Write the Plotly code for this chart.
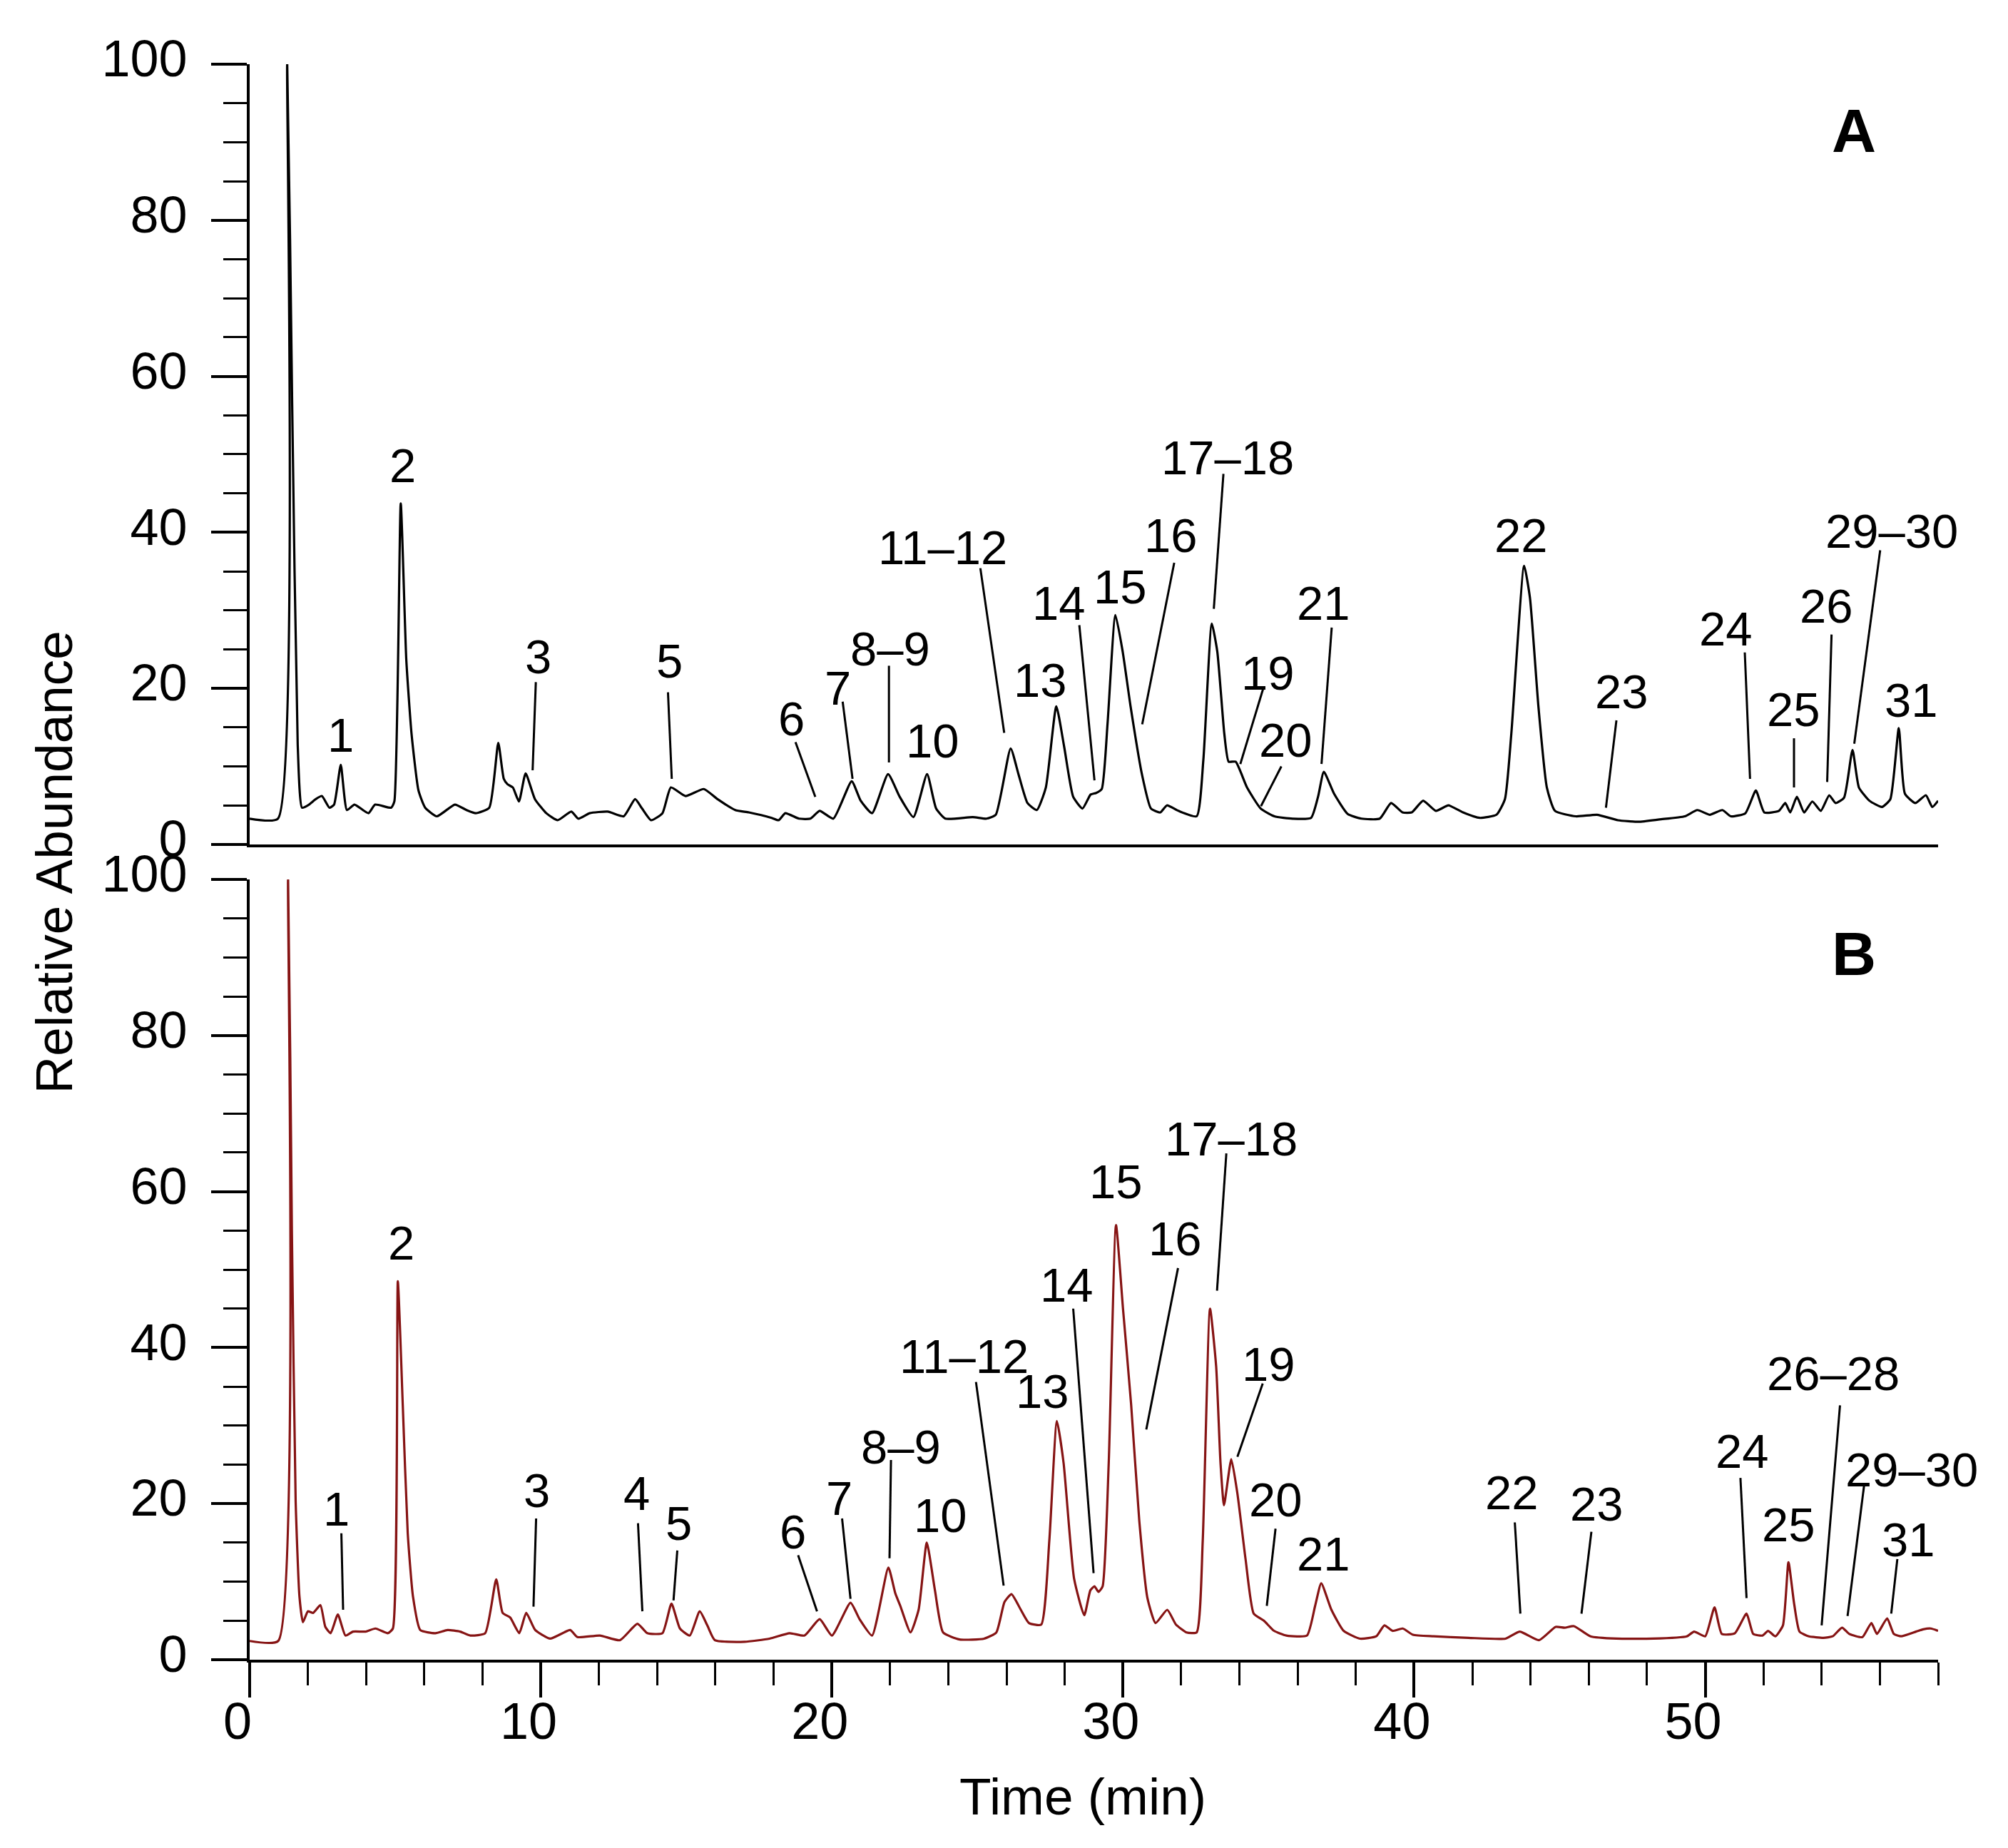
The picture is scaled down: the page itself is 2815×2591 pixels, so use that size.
import plotly.graph_objects as go

# ---------------- data ----------------
top_time = [0, 0.97, 1.29, 1.46, 1.65, 1.8, 2.04, 2.27, 2.48, 2.74, 2.9, 3.13, 3.34, 3.6, 4.08, 4.31,
            4.86, 4.97, 5.19, 5.38, 5.56, 5.8, 6.03, 6.43, 7.05, 7.45, 7.76, 8.23, 8.54, 8.73, 8.86,
            9.04, 9.25, 9.48, 9.8, 10.19, 10.58, 11.05, 11.29, 11.68, 12.3, 12.85, 13.24, 13.48,
            13.79, 14.18, 14.47, 14.97, 15.6, 16.07, 16.68, 17.15, 17.93, 18.17, 18.4, 18.87, 19.26,
            19.58, 20.05, 20.68, 20.99, 21.38, 21.93, 22.33, 22.8, 23.27, 23.58, 23.9, 24.84, 25.31,
            25.63, 26.14, 26.41, 26.72, 27.04, 27.35, 27.71, 27.98, 28.29, 28.61, 28.89, 29.08,
            29.27, 29.47, 29.74, 29.99, 30.26, 30.65, 30.96, 31.28, 31.51, 31.9, 32.53, 32.76,
            33.05, 33.24, 33.48, 33.63, 33.87, 34.26, 34.73, 35.2, 35.83, 36.46, 36.7, 36.9, 37.25,
            37.72, 38.19, 38.82, 39.21, 39.6, 39.92, 40.31, 40.75, 41.18, 41.68, 42.25, 42.83,
            43.12, 43.34, 43.78, 43.98, 44.27, 44.56, 44.84, 45.56, 46.28, 47.0, 47.71, 48.43,
            49.3, 49.73, 50.16, 50.59, 50.88, 51.38, 51.74, 52.03, 52.53, 52.75, 52.92, 53.15,
            53.4, 53.68, 53.97, 54.26, 54.48, 54.77, 55.06, 55.28, 55.64, 56.07, 56.36, 56.65,
            56.86, 57.22, 57.58, 57.8, 58.0]
top_abund = [3.3, 3.3, 100, 56.5, 12.8, 4.7, 5.1, 5.8, 6.2, 4.7, 5.1, 10.2, 4.4, 5.1, 4.0, 5.1,
             4.7, 5.5, 43.7, 23.7, 14.2, 6.9, 4.7, 3.6, 5.1, 4.4, 4.0, 4.7, 13.0, 8.4, 7.7,
             7.3, 5.5, 9.1, 5.8, 4.0, 3.1, 4.2, 3.3, 4.0, 4.2, 3.6, 5.8, 4.6,
             3.1, 4.0, 7.3, 6.2, 7.1, 5.8, 4.4, 4.1, 3.4, 3.1, 4.0, 3.3, 3.3,
             4.3, 3.3, 8.1, 5.6, 4.0, 9.0, 6.1, 3.5, 9.0, 4.6, 3.3, 3.5, 3.3,
             3.8, 12.3, 9.0, 5.3, 4.4, 7.3, 17.7, 12.5, 6.1, 4.6, 6.4, 6.6,
             7.1, 15.5, 29.4, 24.7, 17.7, 9.0, 4.6, 4.1, 5.0, 4.3, 3.6, 10.8,
             28.3, 24.7, 14.2, 10.6, 10.6, 7.3, 4.6, 3.6, 3.3, 3.4, 6.1, 9.3, 6.5,
             3.9, 3.3, 3.3, 5.3, 4.1, 4.1, 5.6, 4.3, 5.0, 4.1, 3.4, 3.8,
             5.8, 14.2, 35.7, 31.6, 17.7, 7.3, 4.3, 3.6, 3.8, 3.1, 2.9, 3.2,
             3.6, 4.4, 3.8, 4.4, 3.6, 4.0, 6.9, 4.1, 4.3, 5.3, 4.1, 6.1,
             4.1, 5.5, 4.3, 6.3, 5.3, 6.0, 12.1, 7.3, 5.6, 4.8, 5.8, 14.9,
             6.5, 5.3, 6.3, 4.8, 5.6]

bottom_time = [0, 0.98, 1.32, 1.45, 1.58, 1.71, 1.83, 2.0, 2.18, 2.43, 2.6, 2.78, 3.03, 3.29, 3.55,
               3.98, 4.32, 4.75, 4.92, 5.09, 5.26, 5.43, 5.61, 5.86, 6.38, 6.8, 7.23, 7.58, 8.09,
               8.47, 8.69, 8.95, 9.26, 9.5, 9.81, 10.32, 11.01, 11.26, 12.03, 12.72, 13.32, 13.66,
               14.18, 14.49, 14.78, 15.12, 15.46, 15.72, 15.98, 17.0, 17.86, 18.55, 19.06, 19.58,
               20.0, 20.64, 20.95, 21.38, 21.94, 22.18, 22.35, 22.7, 22.98, 23.26, 23.54, 23.82,
               24.39, 25.23, 25.65, 25.93, 26.17, 26.49, 26.77, 27.19, 27.47, 27.73, 27.96, 28.32,
               28.67, 28.88, 29.02, 29.16, 29.3, 29.51, 29.76, 30.0, 30.28, 30.56, 30.84, 31.12,
               31.52, 31.82, 32.18, 32.53, 32.74, 32.99, 33.2, 33.35, 33.47, 33.72, 33.93, 34.21,
               34.49, 34.84, 35.19, 35.61, 36.32, 36.6, 36.81, 37.16, 37.58, 38.14, 38.7, 38.98,
               39.26, 39.61, 39.96, 40.67, 41.87, 43.14, 43.63, 44.29, 44.86, 45.17, 45.49, 46.06,
               46.95, 48.22, 49.37, 49.62, 50.0, 50.32, 50.57, 51.02, 51.42, 51.65, 51.97, 52.16,
               52.41, 52.67, 52.86, 53.05, 53.24, 53.56, 54.06, 54.38, 54.7, 54.95, 55.4, 55.71,
               55.9, 56.25, 56.48, 56.73, 57.24, 57.49, 57.75, 58.0]
bottom_abund = [2.4, 2.4, 100, 55, 20.3, 8.1, 4.8, 6.2, 6.0, 7.0, 4.2, 3.4, 5.8, 3.1, 3.6,
                3.6, 4.0, 3.4, 4.0, 48.5, 32.6, 16.2, 8.1, 3.8, 3.4, 3.8, 3.6, 3.1, 3.4,
                10.3, 6.0, 5.4, 3.4, 6.0, 3.8, 2.7, 3.8, 2.9, 3.1, 2.5, 4.6, 3.4,
                3.4, 7.2, 4.0, 3.1, 6.2, 4.4, 2.5, 2.3, 2.7, 3.4, 3.1, 5.2,
                3.1, 7.3, 5.2, 3.1, 11.8, 8.5, 6.9, 3.5, 6.4, 15.0, 8.9, 3.5,
                2.6, 2.7, 3.5, 7.4, 8.4, 6.4, 4.7, 4.5, 15.3, 30.6, 25.2, 10.4,
                5.7, 8.9, 9.4, 8.7, 9.4, 25.2, 55.7, 45.0, 32.7, 17.8, 7.9, 4.7,
                6.4, 4.5, 3.5, 3.5, 15.3, 45.0, 37.6, 25.2, 19.8, 25.7, 21.3, 12.9,
                5.9, 5.0, 3.7, 3.1, 3.1, 6.9, 9.8, 6.4, 3.7, 2.7, 3.0, 4.4,
                3.7, 4.0, 3.2, 3.0, 2.8, 2.7, 3.6, 2.5, 4.2, 4.1, 4.3, 3.0,
                2.7, 2.7, 3.0, 3.6, 3.0, 6.7, 3.3, 3.4, 5.9, 3.3, 3.1, 3.7,
                3.0, 4.4, 12.5, 7.3, 3.6, 3.0, 2.8, 3.0, 4.1, 3.3, 2.9, 4.7,
                3.3, 5.3, 3.3, 3.0, 3.6, 3.9, 4.0, 3.7]

# peak labels, panel A (top)
a_labels = ["1", "2", "3", "5", "6", "7", "8–9", "10", "11–12", "13", "14", "15", "16", "17–18",
            "19", "20", "21", "22", "23", "24", "25", "26", "29–30", "31"]
a_label_t = [3.13, 5.25, 9.92, 14.42, 18.6, 20.21, 22.01, 23.45, 23.8, 27.17, 27.8, 29.91, 31.64,
             33.59, 34.97, 35.6, 36.9, 43.68, 47.14, 50.7, 53.05, 54.17, 56.4, 57.09]
a_label_v = [14.0, 48.6, 24.1, 23.5, 16.1, 20.1, 25.1, 13.3, 38.1, 21.1, 30.9, 33.0, 39.6, 49.6,
             22.0, 13.4, 30.9, 39.6, 19.6, 27.6, 17.3, 30.6, 40.2, 18.5]
# leader lines panel A: (t_start, v_start, t_end, v_end)
a_lines = [(9.83, 20.8, 9.72, 9.5), (14.37, 19.5, 14.5, 8.4), (18.75, 13.1, 19.43, 6.1),
           (20.37, 18.3, 20.71, 8.4), (21.96, 22.9, 21.96, 10.5), (25.1, 35.4, 25.92, 14.3),
           (28.5, 28.1, 29.02, 8.2), (31.76, 36.1, 30.66, 15.4), (33.45, 47.5, 33.12, 30.2),
           (34.81, 19.9, 34.03, 10.3), (35.44, 10.0, 34.74, 4.9), (37.17, 27.8, 36.82, 10.3),
           (46.95, 15.9, 46.59, 4.7), (51.36, 24.6, 51.54, 8.4), (53.05, 13.6, 53.05, 7.3),
           (54.34, 26.9, 54.19, 8.0), (56.01, 37.7, 55.12, 12.9)]

# peak labels, panel B (bottom)
b_labels = ["1", "2", "3", "4", "5", "6", "7", "8–9", "10", "11–12", "13", "14", "15", "16",
            "17–18", "19", "20", "21", "22", "23", "24", "25", "26–28", "29–30", "31"]
b_label_t = [2.98, 5.21, 9.86, 13.29, 14.73, 18.67, 20.26, 22.37, 23.74, 24.53, 27.24, 28.08,
             29.75, 31.8, 33.72, 35.01, 35.26, 36.88, 43.37, 46.28, 51.27, 52.86, 54.4, 57.1, 56.98]
b_label_v = [19.3, 53.4, 21.7, 21.3, 17.5, 16.4, 20.7, 27.3, 18.5, 38.9, 34.4, 48.0, 61.3, 54.0,
             66.8, 37.9, 20.5, 13.6, 21.4, 20.0, 26.7, 17.3, 36.7, 24.4, 15.4]
b_lines = [(3.15, 16.2, 3.21, 6.4), (9.84, 18.1, 9.75, 6.8), (13.34, 17.5, 13.49, 6.2),
           (14.69, 14.0, 14.56, 7.6), (18.84, 13.4, 19.49, 6.2), (20.35, 18.1, 20.64, 7.8),
           (22.03, 25.6, 21.98, 13.0), (24.95, 35.6, 25.9, 9.5), (28.29, 45.0, 28.99, 11.1),
           (31.89, 50.2, 30.8, 29.5), (33.55, 64.9, 33.23, 47.3), (34.8, 35.4, 33.93, 26.0),
           (35.24, 16.8, 34.94, 6.9), (43.46, 17.6, 43.65, 5.9), (46.09, 16.4, 45.75, 5.9),
           (51.21, 23.3, 51.42, 7.9), (54.63, 32.6, 54.0, 4.4), (55.46, 22.4, 54.89, 5.6),
           (56.6, 12.9, 56.39, 5.9)]

x_ticks = [0, 10, 20, 30, 40, 50]
y_ticks = [0, 20, 40, 60, 80, 100]

# ---------------- figure ----------------
FONT = "Liberation Sans, Arial, sans-serif"
W, H = 2815, 2591
BLACK = "#000000"
RED = "#861414"

fig = go.Figure()
fig.add_trace(go.Scatter(x=top_time, y=top_abund, mode="lines", xaxis="x2", yaxis="y2",
                         line=dict(color=BLACK, width=3.2, shape="spline", smoothing=0.5),
                         showlegend=False, hoverinfo="skip"))
fig.add_trace(go.Scatter(x=bottom_time, y=bottom_abund, mode="lines", xaxis="x", yaxis="y",
                         line=dict(color=RED, width=3.2, shape="spline", smoothing=0.5),
                         showlegend=False, hoverinfo="skip"))

annotations = []
shapes = []
lab_font = dict(family=FONT, size=67, color=BLACK)
for txt, t, v in zip(a_labels, a_label_t, a_label_v):
    annotations.append(dict(x=t, y=v, xref="x2", yref="y2", text=txt, showarrow=False,
                            font=lab_font, xanchor="center", yanchor="middle"))
for t0, v0, t1, v1 in a_lines:
    shapes.append(dict(type="line", xref="x2", yref="y2", x0=t0, y0=v0, x1=t1, y1=v1,
                       line=dict(color=BLACK, width=3)))
for txt, t, v in zip(b_labels, b_label_t, b_label_v):
    annotations.append(dict(x=t, y=v, xref="x", yref="y", text=txt, showarrow=False,
                            font=lab_font, xanchor="center", yanchor="middle"))
for t0, v0, t1, v1 in b_lines:
    shapes.append(dict(type="line", xref="x", yref="y", x0=t0, y0=v0, x1=t1, y1=v1,
                       line=dict(color=BLACK, width=3)))

annotations.append(dict(x=55.1, y=91.5, xref="x2", yref="y2", text="<b>A</b>", showarrow=False,
                        font=dict(family=FONT, size=86, color=BLACK)))
annotations.append(dict(x=55.1, y=90.5, xref="x", yref="y", text="<b>B</b>", showarrow=False,
                        font=dict(family=FONT, size=86, color=BLACK)))
annotations.append(dict(x=-0.1158, y=0.5, xref="paper", yref="paper", text="Relative Abundance",
                        showarrow=False, textangle=-90, xanchor="center", yanchor="middle",
                        font=dict(family=FONT, size=73, color=BLACK)))
annotations.append(dict(x=0.4935, y=-0.0858, xref="paper", yref="paper", text="Time (min)",
                        showarrow=False, xanchor="center", yanchor="middle",
                        font=dict(family=FONT, size=73, color=BLACK)))

tick_font = dict(family=FONT, size=72, color=BLACK)
yaxis_common = dict(range=[0, 100], tickvals=y_ticks, ticks="outside", ticklen=50, tickwidth=3.5,
                    tickcolor=BLACK, showline=True, linecolor=BLACK, linewidth=4,
                    showgrid=False, zeroline=False, tickfont=tick_font, ticklabelstandoff=19,
                    ticklabelshift=-8,
                    minor=dict(dtick=5, ticks="outside", ticklen=33, tickwidth=3, tickcolor=BLACK,
                               showgrid=False))

fig.update_layout(
    width=W, height=H,
    paper_bgcolor="white", plot_bgcolor="white",
    margin=dict(l=342, r=106, t=82, b=272),
    xaxis=dict(domain=[0, 1], anchor="y", range=[0, 58], tickvals=x_ticks, ticks="outside",
               ticklen=49, tickwidth=3.5, tickcolor=BLACK, showline=True, linecolor=BLACK,
               linewidth=4, showgrid=False, zeroline=False, tickfont=tick_font,
               ticklabelstandoff=-28, ticklabelshift=-17,
               minor=dict(dtick=2, ticks="outside", ticklen=32, tickwidth=3, tickcolor=BLACK,
                          showgrid=False)),
    yaxis=dict(domain=[0, 0.489], anchor="x", **yaxis_common),
    xaxis2=dict(domain=[0, 1], anchor="y2", range=[0, 58], showticklabels=False, ticks="",
                showline=True, linecolor=BLACK, linewidth=4, showgrid=False, zeroline=False),
    yaxis2=dict(domain=[0.511, 1], anchor="x2", **yaxis_common),
    annotations=annotations,
    shapes=shapes,
)

fig.write_html("out.html")
